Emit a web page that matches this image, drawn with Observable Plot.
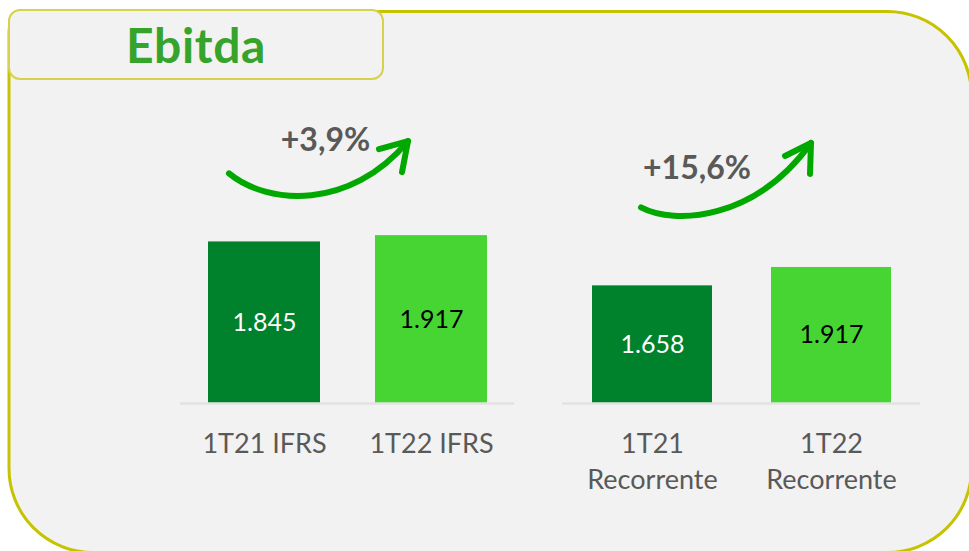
<!DOCTYPE html>
<html>
<head>
<meta charset="utf-8">
<script src="https://cdn.jsdelivr.net/npm/d3@7"></script>
<script src="https://cdn.jsdelivr.net/npm/@observablehq/plot@0.6"></script>
<style>
  html, body { margin: 0; padding: 0; background: #ffffff; }
  #stage { position: relative; width: 969px; height: 551px; overflow: hidden; font-family: Lato, "DejaVu Sans", sans-serif; }
  #frame { position: absolute; left: 0; top: 0; }
  #tab { position: absolute; left: 8px; top: 9px; width: 372px; height: 67px; border: 2.5px solid #d6d24c; border-radius: 12px; background: #f2f2f2; box-sizing: content-box; }
  #tab h1 { margin: 0; text-align: center; font: 700 48px Lato, sans-serif; color: #36a32b; line-height: 67px; letter-spacing: 0.6px; }
  .chart { position: absolute; top: 100px; }
</style>
</head>
<body>
<div id="stage">
  <svg id="frame" width="969" height="551"></svg>
  <div id="tab"><h1>Ebitda</h1></div>
  <div id="chartA" class="chart" style="left:180px"></div>
  <div id="chartB" class="chart" style="left:562px"></div>
</div>
<script>
// ---- data ----
const categoriesA = ["1T21 IFRS", "1T22 IFRS"];
const valuesA = [1845, 1917];
const categoriesB = ["1T21\nRecorrente", "1T22\nRecorrente"];
const valuesB = [1658, 1917];
const growthLabels = ["+3,9%", "+15,6%"];
const barColors = ["#00822c", "#47d534"];
const valueTextColors = ["#ffffff", "#000000"];

// ---- frame ----
(function drawFrame() {
  const x0 = 9, y0 = 11.5, x1 = 971.5, y1 = 552.5, r = 84, rTL = 20;
  const d = `M${x0},${y0 + rTL} A${rTL},${rTL} 0 0 1 ${x0 + rTL},${y0}
    L${x1 - r},${y0} A${r},${r} 0 0 1 ${x1},${y0 + r}
    L${x1},${y1 - r} A${r},${r} 0 0 1 ${x1 - r},${y1}
    L${x0 + r},${y1} A${r},${r} 0 0 1 ${x0},${y1 - r} Z`;
  d3.select("#frame").append("path").attr("d", d)
    .attr("fill", "#f2f2f2").attr("stroke", "#c6c300").attr("stroke-width", 3);
})();

const fmt = d3.formatLocale({decimal: ",", thousands: ".", grouping: [3], currency: ["", ""]}).format(",");

function makeChart(el, cats, vals, growth, yMax, width, growthDx, growthDy, arrowOff) {
  const data = cats.map((c, i) => ({cat: c, value: vals[i], i}));
  const plot = Plot.plot({
    width,
    height: 413,
    marginTop: 0,
    marginBottom: 110,
    marginLeft: 0,
    marginRight: 0,
    style: {background: "transparent", fontFamily: "Lato, sans-serif", overflow: "visible"},
    x: {domain: cats, paddingInner: 0.33, paddingOuter: 0.165, axis: null},
    y: {domain: [0, yMax], axis: null},
    marks: [
      Plot.barY(data, {x: "cat", y: "value", fill: d => barColors[d.i]}),
      Plot.ruleY([0], {stroke: "#e2e2e2", strokeWidth: 2.5}),
      Plot.text(data, {x: "cat", y: d => d.value / 2, text: d => fmt(d.value),
        fill: d => valueTextColors[d.i], fontSize: 25}),
      Plot.axisX({tickSize: 0, tickPadding: 25, fontSize: 27, lineHeight: 1.3, color: "#595959", label: null}),
      Plot.text([data[1]], {x: "cat", y: "value", text: () => growth, dx: growthDx, dy: growthDy,
        fontSize: 32, fontWeight: "bold", fill: "#595959"})
    ]
  });
  document.getElementById(el).appendChild(plot);

  // curved growth arrow, anchored to the bars through the plot's scales
  const xs = plot.scale("x"), ys = plot.scale("y");
  const bw = xs.bandwidth;
  const cx1 = xs.apply(cats[0]) + bw / 2, cx2 = xs.apply(cats[1]) + bw / 2;
  const t1 = ys.apply(vals[0]), t2 = ys.apply(vals[1]);
  const S = [cx1 + arrowOff.s[0], t1 + arrowOff.s[1]];
  const E = [cx2 + arrowOff.e[0], t2 + arrowOff.e[1]];
  const C1 = [S[0] + arrowOff.c1[0], S[1] + arrowOff.c1[1]];
  const C2 = [S[0] + arrowOff.c2[0], S[1] + arrowOff.c2[1]];
  const A1 = [E[0] + arrowOff.a1[0], E[1] + arrowOff.a1[1]];
  const A2 = [E[0] + arrowOff.a2[0], E[1] + arrowOff.a2[1]];
  const g = d3.select(plot).append("g")
    .attr("fill", "none").attr("stroke", "#00a800").attr("stroke-width", 6)
    .attr("stroke-linecap", "round").attr("stroke-linejoin", "round");
  g.append("path").attr("d", `M${S} C${C1} ${C2} ${E}`);
  g.append("path").attr("d", `M${A1} L${E} L${A2}`);
}

makeChart("chartA", categoriesA, valuesA, growthLabels[0], 3460, 334, -106, -95,
  {s: [-35, -68], e: [-23, -94], c1: [39, 32], c2: [121, 37], a1: [-29, 8], a2: [-6, 31]});
makeChart("chartB", categoriesB, valuesB, growthLabels[1], 4270, 358, -134.5, -98.5,
  {s: [-11, -78], e: [-20, -124], c1: [34, 18], c2: [114, 13], a1: [-26, 13], a2: [-1, 31]});
</script>
</body>
</html>
